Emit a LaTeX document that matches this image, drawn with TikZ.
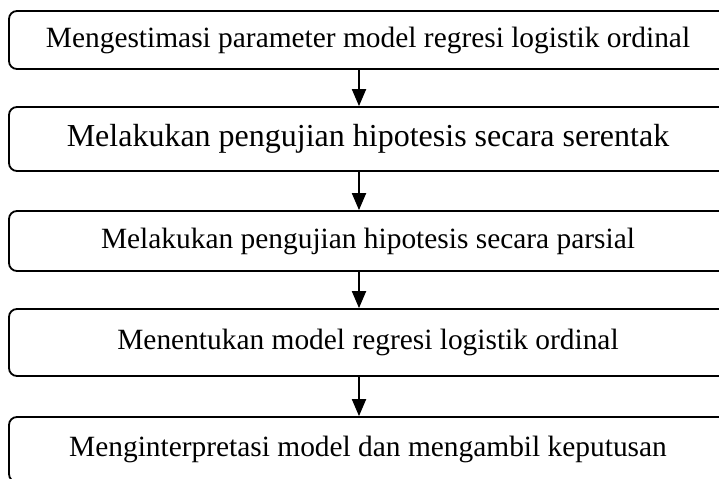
\documentclass[tikz,border=0pt]{standalone}
\usepackage{fontspec}
\setmainfont{Liberation Serif}
\usetikzlibrary{arrows.meta, positioning}

\begin{document}
\begin{tikzpicture}[x=0.5pt, y=0.5pt,
    stepbox/.style={draw, line width=0.9pt, rounded corners=4pt, minimum width=359pt, inner sep=0pt, align=center},
    flow/.style={-{Triangle[length=8.5pt, width=7pt]}, line width=1pt}]
    % Canvas
    \useasboundingbox (0,0) rectangle (719,478);
    \clip (0,0) rectangle (719,478);

    % Steps
    \node[stepbox, minimum height=29pt] (b1) at (368,438) {\fontsize{14.7}{17}\selectfont Mengestimasi parameter model regresi logistik ordinal};
    \node[stepbox, minimum height=32pt] (b2) at (368,339) {\fontsize{16}{19}\selectfont Melakukan pengujian hipotesis secara serentak};
    \node[stepbox, minimum height=30pt] (b3) at (368,237) {\fontsize{14.7}{17}\selectfont Melakukan pengujian hipotesis secara parsial};
    \node[stepbox, minimum height=33.5pt] (b4) at (368,135.5) {\fontsize{14.7}{17}\selectfont Menentukan model regresi logistik ordinal};
    \node[stepbox, minimum height=32.5pt] (b5) at (368,28.5) {\fontsize{14.7}{17}\selectfont Menginterpretasi model dan mengambil keputusan};

    % Flow
    \foreach \a/\b in {b1/b2, b2/b3, b3/b4, b4/b5} {
        \draw[flow] ([xshift=-4.5pt]\a.south) -- ([xshift=-4.5pt]\b.north);
    }
\end{tikzpicture}
\end{document}
